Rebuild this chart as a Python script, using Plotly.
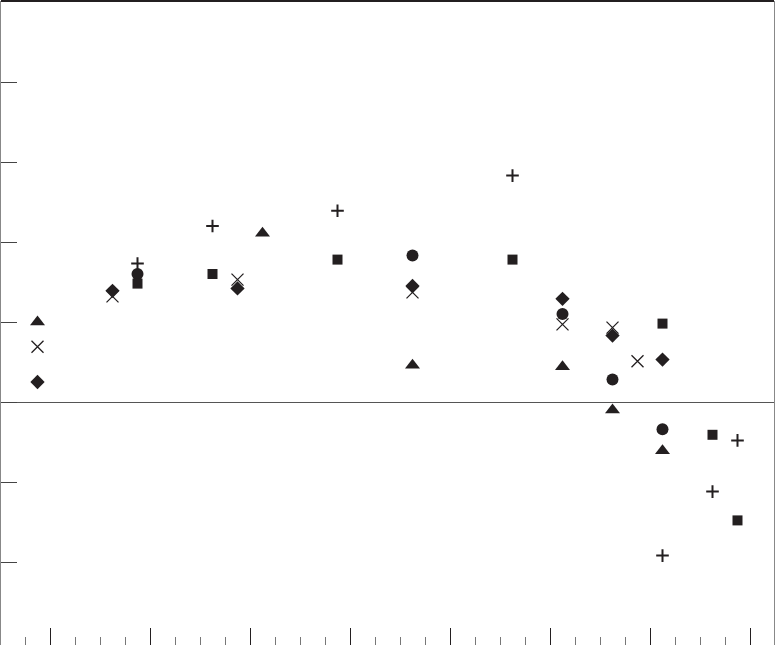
import plotly.graph_objects as go

# --- data (x in quarter units, y in axis units; 0 = reference line) ---
tri_x = [1.5, 10.5, 16.5, 22.5, 24.5, 26.5]
tri_y = [1.00, 2.11, 0.46, 0.44, -0.10, -0.61]

xmark_x = [1.5, 4.5, 9.5, 16.5, 22.5, 24.5, 25.5]
xmark_y = [0.69, 1.32, 1.53, 1.37, 0.97, 0.93, 0.51]

diam_x = [1.5, 4.5, 9.5, 16.5, 22.5, 24.5, 26.5]
diam_y = [0.25, 1.39, 1.42, 1.45, 1.29, 0.83, 0.53]

circ_x = [5.5, 16.5, 22.5, 24.5, 26.5]
circ_y = [1.60, 1.83, 1.10, 0.28, -0.34]

sq_x = [5.5, 8.5, 13.5, 20.5, 26.5, 28.5, 29.5]
sq_y = [1.48, 1.60, 1.78, 1.78, 0.98, -0.41, -1.48]

plus_x = [5.5, 8.5, 13.5, 20.5, 26.5, 28.5, 29.5]
plus_y = [1.73, 2.20, 2.39, 2.83, -1.92, -1.12, -0.48]

y_ticks = [-2, -1, 0, 1, 2, 3, 4]

INK = "#231f20"

fig = go.Figure()

def add(xs, ys, symbol, size, lw=0):
    fig.add_trace(go.Scatter(
        x=xs, y=ys, mode="markers",
        marker=dict(symbol=symbol, size=size, color=INK,
                    line=dict(color=INK, width=lw)),
    ))

add(tri_x, tri_y, "triangle-up", 13)
add(xmark_x, xmark_y, "x-thin", 12, 1.3)
add(diam_x, diam_y, "diamond", 11)
add(circ_x, circ_y, "circle", 12)
add(sq_x, sq_y, "square", 10)
add(plus_x, plus_y, "cross-thin", 9, 2)

fig.update_layout(
    width=775, height=645,
    margin=dict(l=1, r=1, t=1, b=0),
    paper_bgcolor="white", plot_bgcolor="white",
    showlegend=False,
    shapes=[dict(type="line", xref="paper", yref="paper", x0=0, x1=1, y0=1, y1=1,
                 line=dict(color=INK, width=2))],
)

fig.update_xaxes(
    range=[0.04, 30.96], showgrid=False, zeroline=False, showline=False,
    tickmode="linear", tick0=2, dtick=4, showticklabels=False,
    ticks="inside", ticklen=17, tickwidth=1.3, tickcolor=INK,
    minor=dict(ticks="inside", ticklen=8, tickwidth=1.2, tickcolor="#777777",
               dtick=1, tick0=0, showgrid=False),
)
fig.update_yaxes(
    range=[-3.0375, 5.0125], showgrid=False,
    zeroline=True, zerolinecolor="#555555", zerolinewidth=1.3,
    showline=True, mirror=True, linecolor="#888888", linewidth=1.5,
    tickmode="array", tickvals=y_ticks, showticklabels=False,
    ticks="inside", ticklen=16, tickwidth=1.3, tickcolor="#444444",
)

# page has a default 8px body margin; drop it so the frame sits at the window edge
fig.write_html("out.html", config={"displayModeBar": False},
               post_script="document.body.style.margin='0';")
